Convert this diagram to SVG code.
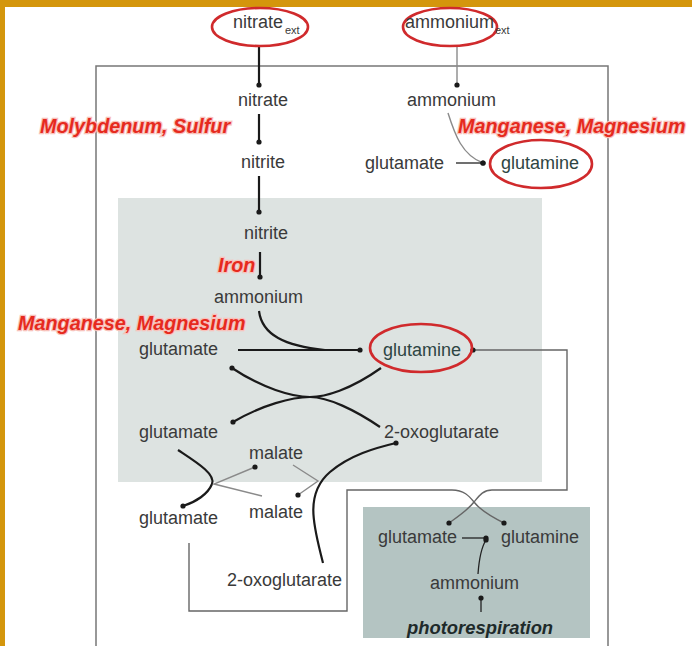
<svg xmlns="http://www.w3.org/2000/svg" width="692" height="646" viewBox="0 0 692 646">
<defs>
<marker id="dot" viewBox="0 0 6 6" refX="3" refY="3" markerWidth="6" markerHeight="6" markerUnits="userSpaceOnUse"><circle cx="3" cy="3" r="2.6" fill="#1a1a1a"/></marker>
<style>
.t{font-family:"Liberation Sans",Arial,sans-serif;font-size:18px;fill:#3a3a3a}
.sub{font-family:"Liberation Sans",Arial,sans-serif;font-size:11px;fill:#3a3a3a}
.g{fill:#2e4543}
.red{font-family:"Liberation Sans",Arial,sans-serif;font-size:19.8px;font-weight:bold;font-style:italic;fill:#e62a1e;stroke:#f8c2bb;stroke-width:2.5;paint-order:stroke}
.pr{font-family:"Liberation Sans",Arial,sans-serif;font-size:18.4px;font-weight:bold;font-style:italic;fill:#1e2a2a}
.ell{fill:none;stroke:#d02a2c;stroke-width:2.6}
.k{fill:none;stroke:#1a1a1a;stroke-width:2.2}
.kt{fill:none;stroke:#222;stroke-width:1.3}
.gr{fill:none;stroke:#8a8a8a;stroke-width:1.4}
.lp{fill:none;stroke:#666;stroke-width:1.4}
</style>
</defs>
<rect x="0" y="0" width="692" height="646" fill="#ffffff"/>
<rect x="0" y="0" width="692" height="7" fill="#d4960c"/>
<rect x="0" y="0" width="5" height="646" fill="#d4960c"/>
<g id="frame">
<path d="M96,646 V66 H608 V646" fill="none" stroke="#777" stroke-width="1.5"/>
<rect x="118" y="198" width="424" height="284" fill="#dde3e1"/>
<rect x="363" y="507" width="227" height="131" fill="#b4c4c2"/>
</g>
<g id="connectors">
<path class="k" d="M259,47 V85" marker-end="url(#dot)"/>
<path class="gr" d="M457,47 V85" marker-end="url(#dot)"/>
<path class="k" d="M259,114 V142" marker-end="url(#dot)"/>
<path class="gr" d="M448,113 C455,135 462,155 483,163" marker-end="url(#dot)"/>
<path class="kt" d="M456,163 H483" marker-end="url(#dot)"/>
<path class="k" d="M259,176 V212" marker-end="url(#dot)"/>
<path class="k" d="M260,252 V277" marker-end="url(#dot)"/>
<path class="k" d="M238,350 H360" marker-end="url(#dot)"/>
<path class="k" d="M259,311 C262,335 285,346 325,350"/>
<path class="k" d="M381,368 C350,390 325,397 310,397 C292,397 262,405 233,422" marker-end="url(#dot)"/>
<path class="k" d="M380,427 C355,410 328,397 310,397 C292,397 262,388 232,368" marker-end="url(#dot)"/>
<path class="k" d="M178,450 C196,462 216,474 212,484 C208,494 196,502 183,506" marker-end="url(#dot)"/>
<path class="gr" d="M262,496 L214,484 L255,467" marker-end="url(#dot)"/>
<path class="gr" d="M293,465 L318,481 L298,495" marker-end="url(#dot)"/>
<path class="k" d="M323,563 C315,530 303,495 330,472 C350,455 375,448 396,443" marker-end="url(#dot)"/>
<path class="lp" d="M189,543 V611 H347 V490 H452 C464,490 469,496 474,502 C480,510 494,518 504,523" marker-end="url(#dot)"/>
<path class="lp" d="M449,523 C456,518 468,510 474,502 C479,496 483,490 492,490 H567 V350 H473" marker-start="url(#dot)" marker-end="url(#dot)"/>
<path class="kt" d="M462,538 H486" marker-end="url(#dot)"/>
<path class="kt" d="M478,574 C479,560 481,548 486,540" marker-end="url(#dot)"/>
<path class="kt" d="M481,612 V598" marker-end="url(#dot)"/>
</g>
<g id="nitrate-ext"><ellipse class="ell" cx="260" cy="27" rx="48" ry="19"/><text class="t" x="233" y="28">nitrate</text><text class="sub" x="285" y="34">ext</text></g>
<g id="ammonium-ext"><ellipse class="ell" cx="450" cy="27" rx="47" ry="19"/><text class="t" x="405" y="28">ammonium</text><text class="sub" x="495" y="34">ext</text></g>
<g id="nitrate"><text class="t" x="238" y="106">nitrate</text></g>
<g id="molybdenum"><text class="red" x="40" y="133">Molybdenum, Sulfur</text></g>
<g id="nitrite1"><text class="t" x="241" y="168">nitrite</text></g>
<g id="ammonium1"><text class="t" x="407" y="106">ammonium</text></g>
<g id="mn1"><text class="red" x="458" y="133">Manganese, Magnesium</text></g>
<g id="glutamate1"><text class="t" x="365" y="169">glutamate</text></g>
<g id="glutamine1"><ellipse class="ell" cx="541" cy="164" rx="51" ry="24"/><text class="t g" x="501" y="169">glutamine</text></g>
<g id="nitrite2"><text class="t" x="244" y="239">nitrite</text></g>
<g id="iron"><text class="red" x="218" y="272">Iron</text></g>
<g id="ammonium2"><text class="t" x="214" y="303">ammonium</text></g>
<g id="mn2"><text class="red" x="18" y="330">Manganese, Magnesium</text></g>
<g id="glutamate2"><text class="t" x="139" y="355">glutamate</text></g>
<g id="glutamine2"><ellipse class="ell" cx="421" cy="348" rx="51" ry="24"/><text class="t g" x="383" y="356">glutamine</text></g>
<g id="glutamate3"><text class="t" x="139" y="438">glutamate</text></g>
<g id="oxo1"><text class="t" x="384" y="438">2-oxoglutarate</text></g>
<g id="malate1"><text class="t" x="249" y="459">malate</text></g>
<g id="glutamate4"><text class="t" x="139" y="524">glutamate</text></g>
<g id="malate2"><text class="t" x="249" y="518">malate</text></g>
<g id="oxo2"><text class="t" x="227" y="586">2-oxoglutarate</text></g>
<g id="glutamate5"><text class="t" x="378" y="543">glutamate</text></g>
<g id="glutamine3"><text class="t" x="501" y="543">glutamine</text></g>
<g id="ammonium3"><text class="t" x="430" y="589">ammonium</text></g>
<g id="photorespiration"><text class="pr" x="407" y="634">photorespiration</text></g>
</svg>
